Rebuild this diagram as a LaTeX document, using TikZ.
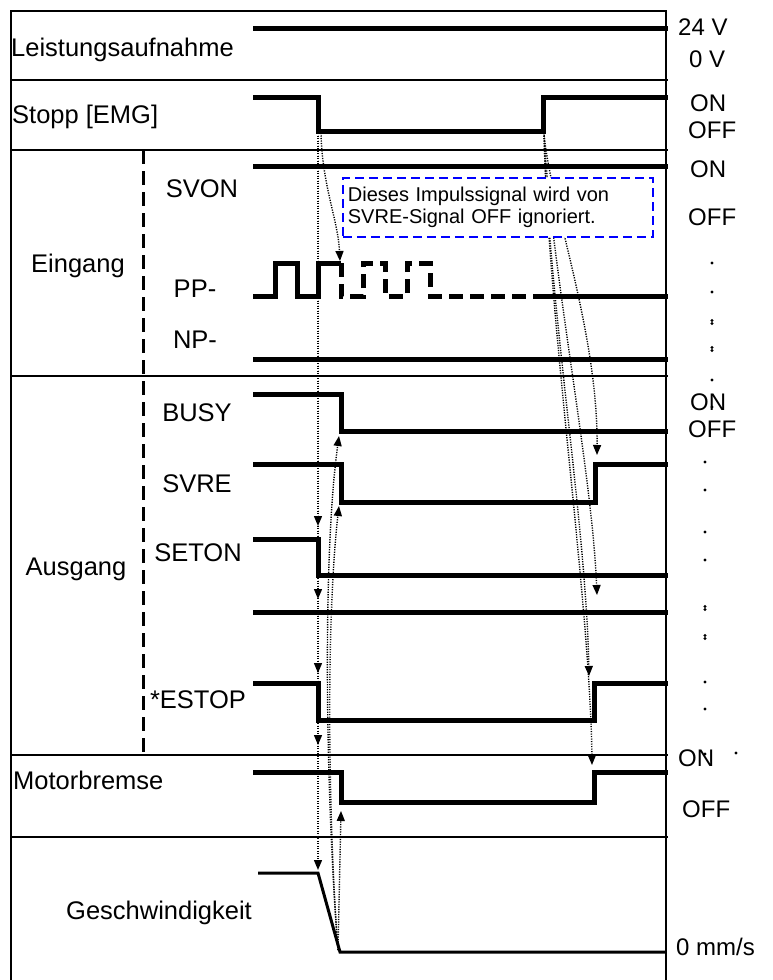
\documentclass[tikz,border=0pt]{standalone}
\usepackage{fontspec}
\setmainfont{Liberation Sans}
\usetikzlibrary{arrows.meta}
\begin{document}
\begin{tikzpicture}[x=1pt,y=-1pt,
  sig/.style={line width=5pt, line cap=butt, line join=miter},
  sigdash/.style={sig, dash pattern=on 14pt off 7pt},
  frameline/.style={line width=2.5pt},
  divline/.style={line width=2pt},
  coldiv/.style={line width=3pt, dash pattern=on 14pt off 7pt},
  biglbl/.style={font=\fontsize{25.5}{30}\selectfont, inner sep=0pt},
  siglbl/.style={font=\fontsize{25.5}{30}\selectfont, inner sep=0pt},
  rlbl/.style={font=\fontsize{24}{28}\selectfont, inner sep=0pt, anchor=west},
  dotarrow/.style={line width=1.4pt, dash pattern=on 1.2pt off 1.3pt, -{Triangle[length=10pt,width=8pt]}},
  notebox/.style={draw=blue, fill=white, line width=1.8pt, dash pattern=on 9pt off 5pt,
    minimum width=310pt, minimum height=59pt, text width=300pt, inner xsep=5pt, inner ysep=0pt,
    align=left, font=\fontsize{20}{22}\selectfont},
  rdot/.style={fill=black, draw=none}
]
\useasboundingbox (0,0) rectangle (773,980);

% ---- frame and dividers
\draw[frameline] (11,980) -- (11,11) -- (666,11) -- (666,980);
\foreach \yy in {80,150,376,755,837} \draw[divline] (11,\yy) -- (668,\yy);
\draw[coldiv] (143,150) -- (143,755);

% ---- row labels
\node[biglbl, anchor=west] (lLeist) at (11,50) {Leistungsaufnahme};
\node[biglbl, anchor=west] (lStopp) at (12,117) {Stopp [EMG]};
\node[biglbl] (lEin) at (78,266) {Eingang};
\node[biglbl] (lAus) at (76,569) {Ausgang};
\node[biglbl, anchor=west] (lMotor) at (13,780) {Motorbremse};
\node[biglbl] (lGesch) at (159,913) {Geschwindigkeit};

\node[siglbl] (lSVON) at (202,189) {SVON};
\node[siglbl] (lPP) at (195,289) {PP-};
\node[siglbl] (lNP) at (195,340) {NP-};
\node[siglbl] (lBUSY) at (197,413) {BUSY};
\node[siglbl] (lSVRE) at (197,484) {SVRE};
\node[siglbl] (lSETON) at (198,553) {SETON};
\node[siglbl] (lESTOP) at (198,700) {*ESTOP};

% ---- right-hand level labels
\node[rlbl] (r24) at (678,27) {24 V};
\node[rlbl] (r0) at (689,59) {0 V};
\node[rlbl] (rON1) at (690,103) {ON};
\node[rlbl] (rOFF1) at (688,130) {OFF};
\node[rlbl] (rON2) at (690,169) {ON};
\node[rlbl] (rOFF2) at (688,217) {OFF};
\node[rlbl] (rON3) at (690,402) {ON};
\node[rlbl] (rOFF3) at (688,429) {OFF};
\node[rlbl] (rON4) at (678,758) {ON};
\node[rlbl] (rOFF4) at (682,809) {OFF};
\node[rlbl] (r0mm) at (676,947) {0 mm/s};

\foreach \yy in {263,292,380,407} \fill[rdot] (712,\yy) circle (1.7pt);
\foreach \yy in {322,349} {\fill[rdot] (712,\yy-1.5) circle (1.6pt); \fill[rdot] (712,\yy+1.5) circle (1.6pt);}
\foreach \yy in {462,490,532,560,682,709,754} \fill[rdot] (705,\yy) circle (1.7pt);
\foreach \yy in {608,637} {\fill[rdot] (705,\yy-1.5) circle (1.6pt); \fill[rdot] (705,\yy+1.5) circle (1.6pt);}
\fill[rdot] (736,753) circle (1.7pt);

% ---- signals
\draw[sig] (253,28) -- (668,28);
\draw[sig] (253,97) -- (318,97) -- (318,131) -- (543,131) -- (543,97) -- (668,97);
\draw[sig] (253,166) -- (668,166);
\draw[sig] (253,296) -- (275,296) -- (275,263) -- (297,263) -- (297,296) -- (318,296) -- (318,263) -- (341,263);
\draw[sigdash] (341,263) -- (341,296) -- (363,296) -- (363,263) -- (385,263) -- (385,296) -- (407,296) -- (407,263) -- (430,263) -- (430,296) -- (542,296);
\draw[sig] (542,296) -- (668,296);
\draw[sig] (253,359) -- (668,359);
\draw[sig] (253,394) -- (341,394) -- (341,431) -- (668,431);
\draw[sig] (253,464) -- (341,464) -- (341,502) -- (595,502) -- (595,464) -- (668,464);
\draw[sig] (253,539) -- (318,539) -- (318,575) -- (668,575);
\draw[sig] (253,612) -- (668,612);
\draw[sig] (253,683) -- (318,683) -- (318,720) -- (594,720) -- (594,683) -- (668,683);
\draw[sig] (253,772) -- (341,772) -- (341,802) -- (594,802) -- (594,772) -- (668,772);
\draw[line width=3pt, line join=miter] (258,873) -- (318,873) -- (340,952) -- (666,952);

% ---- event points
\coordinate (stopFall) at (318,133);
\coordinate (stopFallB) at (321,133);
\coordinate (stopRise) at (544,133);
\coordinate (spdLow) at (338,950);
\coordinate (tPP) at (340,261);
\coordinate (tSETON) at (318,526);
\coordinate (tLine) at (318,599);
\coordinate (tESTOP) at (318,673);
\coordinate (tMotor) at (318,745);
\coordinate (tSpeed) at (318,870);
\coordinate (tBUSYlow) at (339,436);
\coordinate (tSVRElow) at (339,506);
\coordinate (tMotorLow) at (341,811);
\coordinate (tSVRErise) at (597,455);
\coordinate (tLineR) at (597,595);
\coordinate (tESTOPrise) at (589,676);
\coordinate (tMotorRise) at (592,765);

% ---- dotted cause/effect arrows
\draw[dotarrow] (stopFallB) .. controls (322,185) and (338,220) .. (tPP);
\draw[dotarrow] (stopFall) -- (tSETON);
\draw[dotarrow] (stopFall) -- (tLine);
\draw[dotarrow] (stopFall) -- (tESTOP);
\draw[dotarrow] (stopFall) -- (tMotor);
\draw[dotarrow] (stopFall) -- (tSpeed);
\draw[dotarrow] (spdLow) -- (tMotorLow);
\draw[dotarrow] (spdLow) .. controls (328,820) and (326,620) .. (tSVRElow);
\draw[dotarrow] (spdLow) .. controls (326,800) and (322,560) .. (tBUSYlow);
\draw[dotarrow] (stopRise) .. controls (549,200) and (598,330) .. (tSVRErise);
\draw[dotarrow] (stopRise) .. controls (550,260) and (592,470) .. (tLineR);
\draw[dotarrow] (stopRise) .. controls (548,300) and (586,520) .. (tESTOPrise);
\draw[dotarrow] (stopRise) .. controls (548,320) and (590,600) .. (tMotorRise);

% ---- note
\node[notebox, anchor=north west] (note) at (342,177) {Dieses Impulssignal wird von\\SVRE-Signal OFF ignoriert.};
\end{tikzpicture}
\end{document}
